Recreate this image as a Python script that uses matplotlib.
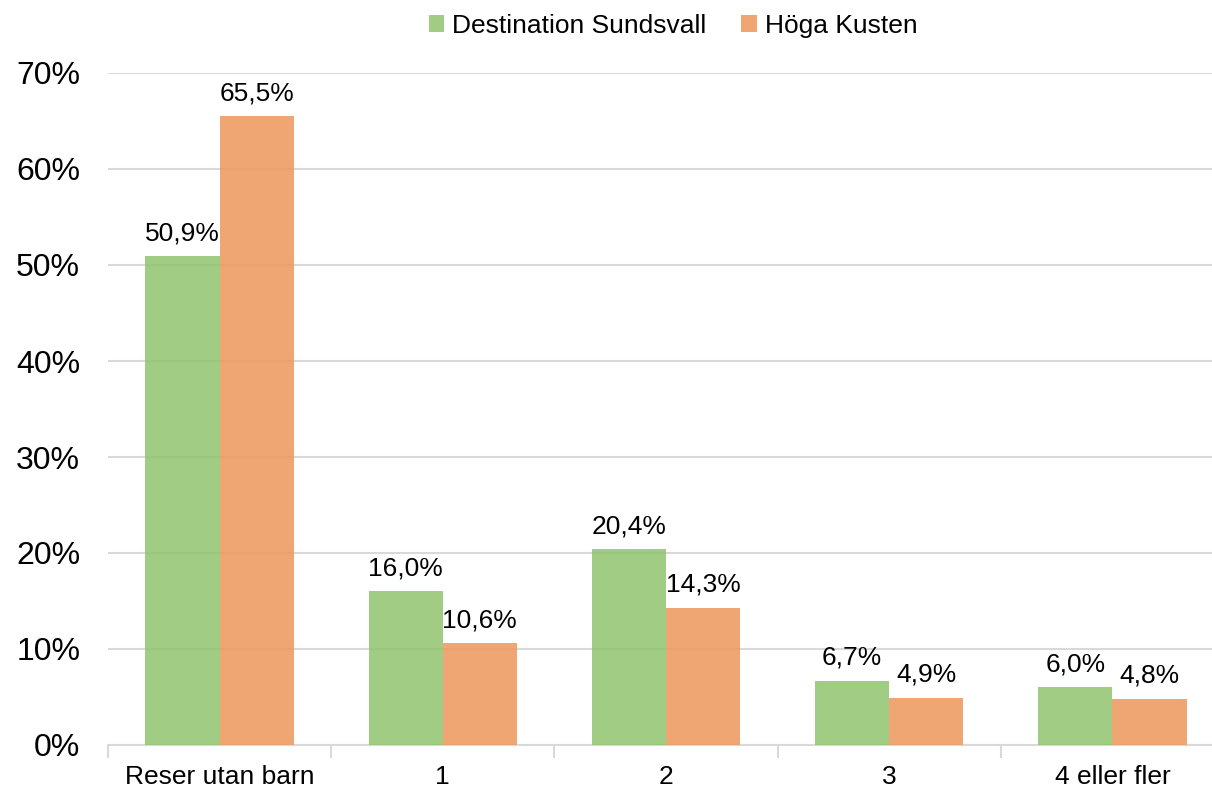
import matplotlib
matplotlib.use("Agg")
import matplotlib.pyplot as plt
import numpy as np
from matplotlib.ticker import FuncFormatter

categories = ["Reser utan barn", "1", "2", "3", "4 eller fler"]
series_names = ["Destination Sundsvall", "Höga Kusten"]
sundsvall = [50.9, 16.0, 20.4, 6.7, 6.0]
hoga_kusten = [65.5, 10.6, 14.3, 4.9, 4.8]
yticks = [0, 10, 20, 30, 40, 50, 60, 70]

plt.rcParams['font.family'] = ['Liberation Sans', 'DejaVu Sans']

fig = plt.figure(figsize=(12.12, 7.87), dpi=100)
ax = fig.add_axes([108/1212, 1-745/787, 1116/1212, (745-73)/787])

x = np.arange(len(categories))
w = 0.332
green = '#8FC46E'
orange = '#EE975B'
b1 = ax.bar(x - w/2, sundsvall, w, color=green, alpha=0.85, label=series_names[0], zorder=3)
b2 = ax.bar(x + w/2, hoga_kusten, w, color=orange, alpha=0.85, label=series_names[1], zorder=3)

for bars, vals in ((b1, sundsvall), (b2, hoga_kusten)):
    for r, v in zip(bars, vals):
        ax.annotate(f"{v:.1f}%".replace('.', ','), (r.get_x() + r.get_width()/2, v),
                    xytext=(0, 8), textcoords='offset points', ha='center', va='bottom',
                    fontsize=19, color='#000000', zorder=4)

ax.set_xlim(-0.5, len(categories) - 0.5)
ax.set_ylim(0, 70)
ax.set_yticks(yticks)
ax.yaxis.set_major_formatter(FuncFormatter(lambda v, p: f"{int(v)}%"))
ax.tick_params(axis='y', length=0, labelsize=23, pad=20)
ax.set_xticks(x)
ax.set_xticklabels(categories)
ax.tick_params(axis='x', which='major', length=0, labelsize=19, pad=14.5)
ax.set_xticks(np.arange(len(categories) + 1) - 0.5, minor=True)
ax.tick_params(axis='x', which='minor', length=9, width=1.5, color='#D9D9D9')

ax.grid(axis='y', color='#D9D9D9', linewidth=1.5, zorder=0)
ax.set_axisbelow(True)
for s in ('top', 'right', 'left'):
    ax.spines[s].set_visible(False)
ax.spines['bottom'].set_color('#D9D9D9')
ax.spines['bottom'].set_linewidth(1.5)

fig.legend(handles=[b1, b2], loc='center', bbox_to_anchor=(673/1212, 1-26/787), ncol=2,
           frameon=False, fontsize=19, handlelength=0.6, handleheight=0.6,
           handletextpad=0.3, columnspacing=1.3, borderaxespad=0)

fig.savefig('out.png', dpi=100)
